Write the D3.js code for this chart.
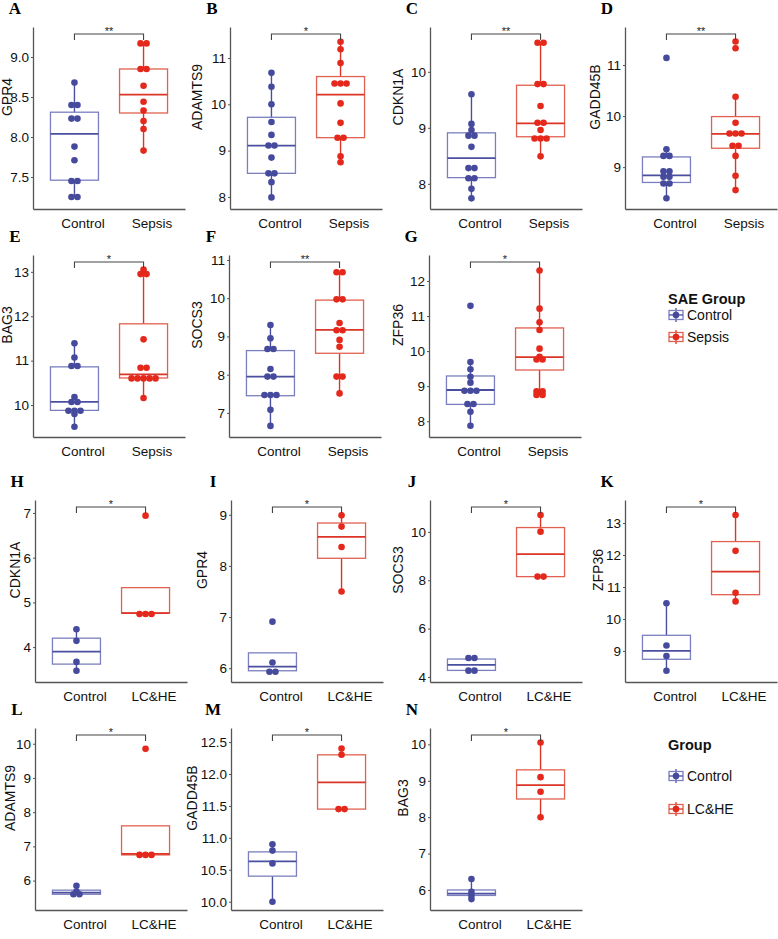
<!DOCTYPE html>
<html><head><meta charset="utf-8">
<script src="https://cdn.jsdelivr.net/npm/d3@7"></script>
<style>body{margin:0;background:#fff} svg text{font-family:"Liberation Sans",Arial,sans-serif}</style>
</head><body><svg id="c" width="778" height="939"></svg>
<script>
const panelIds = ["A","B","C","D","E","F","G","H","I","J","K","L","M","N"];
const genes = ["GPR4","ADAMTS9","CDKN1A","GADD45B","BAG3","SOCS3","ZFP36","CDKN1A","GPR4","SOCS3","ZFP36","ADAMTS9","GADD45B","BAG3"];
const sepsisGroups = ["Control","Sepsis"];
const lcheGroups = ["Control","LC&HE"];
const significance = ["**","*","**","**","*","**","*","*","*","*","*","*","*","*"];
const yLimits = [[7.1,9.375],[7.74,11.67],[7.55,10.80],[8.18,11.745],[9.28,13.38],[6.37,11.13],[7.55,12.74],
  [3.22,7.29],[5.73,9.29],[3.79,11.32],[8.03,13.72],[5.14,10.46],[9.87,12.72],[5.45,10.45]];
const yTicks = [[7.5,8,8.5,9],[8,9,10,11],[8,9,10],[9,10,11],[10,11,12,13],[7,8,9,10,11],[8,9,10,11,12],
  [4,5,6,7],[6,7,8,9],[4,6,8,10],[9,10,11,12,13],[6,7,8,9,10],[10,10.5,11,11.5,12,12.5],[6,7,8,9,10]];
const tickFormats = [".1f","d","d","d","d","d","d","d","d","d","d","d",".1f","d"];
const controlValues = [
  [8.68,8.40,8.40,8.23,8.23,7.88,7.71,7.45,7.45,7.25,7.25],
  [10.68,10.38,10.0,9.62,9.34,9.11,9.11,8.85,8.51,8.51,8.32,7.99],
  [9.60,9.07,8.96,8.86,8.86,8.66,8.28,8.28,8.10,8.10,7.91,7.74],
  [11.14,9.35,9.22,9.22,8.92,8.92,8.81,8.81,8.68,8.68,8.39],
  [11.39,11.07,10.88,10.88,10.18,10.07,10.07,9.87,9.87,9.87,9.80,9.51],
  [9.30,8.95,8.67,8.67,8.15,7.95,7.95,7.47,7.47,7.47,7.08,6.66],
  [11.29,9.69,9.48,9.27,9.10,8.87,8.87,8.87,8.49,8.49,8.27,7.87],
  [4.40,4.14,3.67,3.47],
  [6.91,6.11,5.93,5.93],
  [4.78,4.78,4.26,4.26],
  [10.49,9.17,8.84,8.38],
  [5.85,5.68,5.6,5.6],
  [10.9,10.8,10.6,10.0],
  [6.3,5.95,5.85,5.75]
];
const caseValues = [
  [9.17,9.17,8.85,8.85,8.64,8.44,8.33,8.20,8.10,7.83],
  [11.35,11.19,10.89,10.45,10.45,10.45,10.02,9.60,9.28,9.28,8.88,8.75],
  [10.52,10.52,9.78,9.78,9.39,9.09,9.09,8.96,8.81,8.81,8.81,8.49],
  [11.46,11.33,10.38,9.87,9.66,9.66,9.66,9.42,9.42,9.22,8.83,8.55],
  [13.05,12.95,12.95,11.48,10.84,10.84,10.60,10.60,10.60,10.60,10.60,10.16],
  [10.68,10.68,9.97,9.97,9.35,9.16,9.16,8.91,8.73,7.95,7.95,7.51],
  [12.30,11.21,10.82,10.60,10.07,9.84,9.76,9.76,8.85,8.85,8.75,8.75],
  [6.94,4.74,4.74,4.74],
  [8.99,8.77,8.37,7.50],
  [10.70,10.01,8.15,8.15],
  [13.25,12.13,10.82,10.55],
  [9.85,6.75,6.75,6.75],
  [12.4,12.3,11.45,11.45],
  [10.05,9.1,8.7,8.0]
];
// [lower whisker, Q1, median, Q3, upper whisker]
const controlBoxes = [
  [7.25,7.46,8.04,8.31,8.68],[7.99,8.51,9.11,9.72,10.68],[7.74,8.11,8.46,8.91,9.60],[8.39,8.70,8.84,9.20,9.35],
  [9.51,9.88,10.07,10.86,11.39],[6.66,7.45,7.95,8.63,9.30],[7.87,8.48,8.89,9.29,9.69],
  [3.47,3.62,3.90,4.20,4.40],[5.93,5.95,6.03,6.30,6.30],[4.26,4.27,4.50,4.74,4.78],[8.38,8.74,9.00,9.49,10.49],
  [5.6,5.6,5.65,5.72,5.85],[10.0,10.4,10.63,10.78,10.9],[5.75,5.85,5.9,6.0,6.3]
];
const caseBoxes = [
  [7.83,8.30,8.53,8.85,9.17],[8.75,9.28,10.21,10.60,11.35],[8.49,8.84,9.08,9.76,10.52],[8.55,9.37,9.65,9.99,10.38],
  [10.16,10.61,10.69,11.83,13.05],[7.51,8.56,9.17,9.95,10.68],[8.74,9.46,9.83,10.66,12.30],
  [4.74,4.76,4.76,5.33,5.33],[7.50,8.15,8.57,8.84,8.99],[8.15,8.15,9.08,10.18,10.70],[10.55,10.76,11.48,12.42,13.25],
  [6.75,6.75,6.78,7.6,7.6],[11.45,11.45,11.87,12.3,12.4],[8.0,8.5,8.88,9.3,10.05]
];

// layout (positions only)
const layout = [
  {x:33,y:27,tdx:-26},{x:230,y:27,tdx:-33},{x:430,y:27,tdx:-32},{x:625,y:27,tdx:-30},
  {x:33,y:255,tdx:-26},{x:229,y:255,tdx:-32},{x:429,y:255,tdx:-31},
  {x:35,y:500,tdx:-20},{x:231,y:500,tdx:-29},{x:430,y:500,tdx:-32},{x:625,y:500,tdx:-27},
  {x:35,y:728,tdx:-25},{x:231,y:728,tdx:-39},{x:430,y:728,tdx:-27}
];
const PW = 152, PH = 182;
const col = {
  Control:{dot:"#454a9c", box:"#7b7fbf", med:"#4a4f9f"},
  case:{dot:"#e4281c", box:"#e2604f", med:"#dc3426"}
};
const svg = d3.select("#c");

panelIds.forEach((id,i)=>{
  const L = layout[i];
  const groups = i < 7 ? sepsisGroups : lcheGroups;
  const g = svg.append("g");
  const y = d3.scaleLinear().domain(yLimits[i]).range([L.y+PH, L.y]);
  const x = d3.scalePoint().domain(groups).range([L.x, L.x+PW]).padding(0.6);

  g.append("text").attr("x", L.x - 18).attr("y", L.y - 13)
    .attr("text-anchor","middle").style("font-family","'Liberation Serif',serif")
    .style("font-weight","bold").style("font-size","17px").text(id);

  const ya = g.append("g").attr("transform",`translate(${L.x},0)`)
    .call(d3.axisLeft(y).tickValues(yTicks[i]).tickFormat(d3.format(tickFormats[i])).tickSize(2).tickSizeOuter(0).tickPadding(2));
  ya.select(".domain").attr("stroke","#555").attr("stroke-width",1.3);
  ya.selectAll(".tick line").attr("stroke","#555");
  ya.selectAll(".tick text").style("font-size","13.5px").attr("fill","#111").style("font-family","'Liberation Sans',Arial,sans-serif");
  const xa = g.append("g").attr("transform",`translate(0,${L.y+PH})`)
    .call(d3.axisBottom(x).tickSize(0).tickSizeOuter(0).tickPadding(9));
  xa.select(".domain").attr("stroke","#555").attr("stroke-width",1.3);
  xa.selectAll(".tick text").attr("dx", 8).style("font-size","13.5px").attr("fill","#111").style("font-family","'Liberation Sans',Arial,sans-serif");
  g.append("text").attr("transform",`translate(${L.x + L.tdx},${L.y+70}) rotate(-90)`)
    .attr("text-anchor","middle").attr("dominant-baseline","central")
    .style("font-size","14px").attr("fill","#111").text(genes[i]);

  const sets = [
    {grp:groups[0], vals:controlValues[i], box:controlBoxes[i], c:col.Control},
    {grp:groups[1], vals:caseValues[i], box:caseBoxes[i], c:col.case}
  ];
  const bw = 48;
  sets.forEach(s=>{
    const cx = x(s.grp);
    const [lo,q1,md,q3,hi] = s.box;
    if (hi > q3) g.append("line").attr("x1",cx).attr("x2",cx).attr("y1",y(q3)).attr("y2",y(hi)).attr("stroke",s.c.med).attr("stroke-width",1.4);
    if (lo < q1) g.append("line").attr("x1",cx).attr("x2",cx).attr("y1",y(q1)).attr("y2",y(lo)).attr("stroke",s.c.med).attr("stroke-width",1.4);
    g.append("rect").attr("x",cx-bw/2).attr("y",y(q3)).attr("width",bw).attr("height",Math.max(0.5,y(q1)-y(q3)))
      .attr("fill","none").attr("stroke",s.c.box).attr("stroke-width",1.3);
    g.append("line").attr("x1",cx-bw/2).attr("x2",cx+bw/2).attr("y1",y(md)).attr("y2",y(md)).attr("stroke",s.c.med).attr("stroke-width",1.8);
    const bins = d3.groups(s.vals, v=>v);
    bins.forEach(([v, arr])=>{
      arr.forEach((_,k)=>{
        g.append("circle").attr("cx", cx + (k-(arr.length-1)/2)*6).attr("cy", y(v)).attr("r",3.3).attr("fill",s.c.dot);
      });
    });
  });

  const by = L.y + 7;
  const x0 = x(groups[0]), x1 = x(groups[1]);
  g.append("path").attr("d",`M${x0},${by+6}V${by}H${x1}V${by+6}`).attr("fill","none").attr("stroke","#444").attr("stroke-width",1.1);
  g.append("text").attr("x",(x0+x1)/2).attr("y",by+1).attr("text-anchor","middle")
    .style("font-size","11px").attr("fill","#222").text(significance[i]);
});

function legend(title, labels, tx, ty, ys){
  const lg = svg.append("g");
  lg.append("text").attr("x",tx).attr("y",ty).style("font-size","14.5px").style("font-weight","bold").attr("fill","#111").text(title);
  labels.forEach((lab,k)=>{
    const c = k===0 ? col.Control : col.case;
    const cy = ys[k], cx = tx + 8;
    lg.append("line").attr("x1",cx).attr("x2",cx).attr("y1",cy-7).attr("y2",cy+7).attr("stroke",c.med).attr("stroke-width",1.3);
    lg.append("rect").attr("x",cx-7).attr("y",cy-4.5).attr("width",14).attr("height",9).attr("fill","none").attr("stroke",c.box).attr("stroke-width",1.3);
    lg.append("line").attr("x1",cx-7).attr("x2",cx+7).attr("y1",cy).attr("y2",cy).attr("stroke",c.med).attr("stroke-width",1.3);
    lg.append("circle").attr("cx",cx).attr("cy",cy).attr("r",3.3).attr("fill",c.dot);
    lg.append("text").attr("x",tx+19).attr("y",cy).attr("dominant-baseline","central").style("font-size","14px").attr("fill","#111").text(lab);
  });
}
legend("SAE Group", sepsisGroups, 668, 304, [315, 337]);
legend("Group", lcheGroups, 668, 750, [776, 809]);
</script></body></html>
